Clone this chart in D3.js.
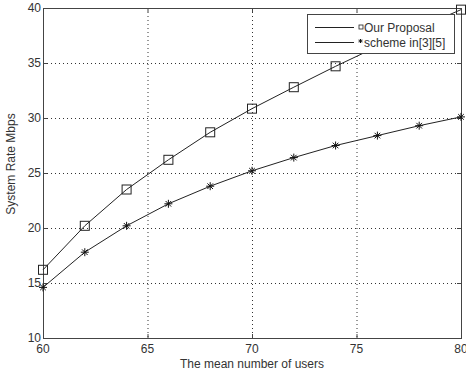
<!DOCTYPE html>
<html>
<head>
<meta charset="utf-8">
<script src="https://cdn.jsdelivr.net/npm/d3@7.9.0/dist/d3.min.js"></script>
<style>
  body { margin: 0; background: #fff; }
  text { font-family: "Liberation Sans", Arial, sans-serif; fill: #333; }
</style>
</head>
<body>
<svg width="466" height="375"></svg>
<script>
const users = [60, 62, 64, 66, 68, 70, 72, 74, 76, 78, 80];
const proposal = [16.2, 20.2, 23.5, 26.2, 28.7, 30.85, 32.8, 34.7, 36.5, 38.2, 39.85];
const scheme = [14.6, 17.8, 20.2, 22.2, 23.8, 25.2, 26.4, 27.5, 28.4, 29.3, 30.1];
const xTicks = [60, 65, 70, 75, 80];
const yTicks = [10, 15, 20, 25, 30, 35, 40];
const legendLabels = ['Our Proposal', 'scheme in[3][5]'];

const svg = d3.select('svg');
const pLeft = 43, pRight = 461, pTop = 8, pBottom = 338;

let x = d3.scaleLinear().domain([60, 80]).range([pLeft, pRight]);
let y = d3.scaleLinear().domain([10, 40]).range([pBottom, pTop]);

// grid
svg.append('g').selectAll('line').data(xTicks.slice(1, -1)).join('line')
  .attr('x1', d => x(d) + 0.5).attr('x2', d => x(d) + 0.5)
  .attr('y1', pTop).attr('y2', pBottom)
  .attr('stroke', '#333').attr('stroke-width', 1).attr('stroke-dasharray', '1,3');
svg.append('g').selectAll('line').data(yTicks.slice(1, -1)).join('line')
  .attr('y1', d => y(d) + 0.5).attr('y2', d => y(d) + 0.5)
  .attr('x1', pLeft).attr('x2', pRight)
  .attr('stroke', '#333').attr('stroke-width', 1).attr('stroke-dasharray', '1,3');

// axes box
svg.append('rect')
  .attr('x', pLeft + 0.5).attr('y', pTop + 0.5)
  .attr('width', pRight - pLeft).attr('height', pBottom - pTop)
  .attr('fill', 'none').attr('stroke', '#444').attr('stroke-width', 1);

// inner ticks
const tickG = svg.append('g').attr('stroke', '#444');
xTicks.forEach(t => {
  tickG.append('line').attr('x1', x(t) + 0.5).attr('x2', x(t) + 0.5).attr('y1', pBottom).attr('y2', pBottom - 4);
  tickG.append('line').attr('x1', x(t) + 0.5).attr('x2', x(t) + 0.5).attr('y1', pTop).attr('y2', pTop + 4);
});
yTicks.forEach(t => {
  tickG.append('line').attr('y1', y(t) + 0.5).attr('y2', y(t) + 0.5).attr('x1', pLeft).attr('x2', pLeft + 4);
  tickG.append('line').attr('y1', y(t) + 0.5).attr('y2', y(t) + 0.5).attr('x1', pRight).attr('x2', pRight - 4);
});

// tick labels
svg.append('g').selectAll('text').data(xTicks).join('text')
  .attr('x', d => x(d)).attr('y', pBottom + 15)
  .attr('text-anchor', 'middle').attr('font-size', 12)
  .text(d => d);
svg.append('g').selectAll('text').data(yTicks).join('text')
  .attr('x', pLeft - 2).attr('y', d => y(d) + 4)
  .attr('text-anchor', 'end').attr('font-size', 12)
  .text(d => d);

// axis labels
svg.append('text')
  .attr('x', (pLeft + pRight) / 2).attr('y', 368)
  .attr('text-anchor', 'middle').attr('font-size', 12)
  .text('The mean number of users');
svg.append('text')
  .attr('transform', 'translate(15,164) rotate(-90)')
  .attr('text-anchor', 'middle').attr('font-size', 12)
  .text('System Rate Mbps');

// lines
let line = d3.line().x((d, i) => x(users[i])).y(d => y(d));
[proposal, scheme].forEach(s => {
  svg.append('path').attr('d', line(s))
    .attr('fill', 'none').attr('stroke', '#222').attr('stroke-width', 1);
});

// markers
svg.append('g').selectAll('rect').data(proposal).join('rect')
  .attr('x', (d, i) => x(users[i]) - 4.5).attr('y', d => y(d) - 4.5)
  .attr('width', 9).attr('height', 9)
  .attr('fill', 'none').attr('stroke', '#222').attr('stroke-width', 1);

function star(g, cx, cy, r) {
  g.append('path')
    .attr('d', `M${cx - r},${cy}H${cx + r}M${cx},${cy - r}V${cy + r}` +
      `M${cx - r * 0.7},${cy - r * 0.7}L${cx + r * 0.7},${cy + r * 0.7}` +
      `M${cx - r * 0.7},${cy + r * 0.7}L${cx + r * 0.7},${cy - r * 0.7}`)
    .attr('stroke', '#111').attr('stroke-width', 1).attr('fill', 'none');
}
const starG = svg.append('g');
scheme.forEach((d, i) => star(starG, x(users[i]), y(d), 4));

// legend
const lg = svg.append('g');
lg.append('rect').attr('x', 307.5).attr('y', 14.5).attr('width', 147).attr('height', 39)
  .attr('fill', '#fff').attr('stroke', '#444').attr('stroke-width', 1);
legendLabels.forEach((lab, i) => {
  const ly = 27 + i * 15;
  lg.append('line').attr('x1', 315).attr('x2', 354).attr('y1', ly + 0.5).attr('y2', ly + 0.5)
    .attr('stroke', '#222');
  if (i === 0) {
    lg.append('rect').attr('x', 359).attr('y', ly - 2).attr('width', 4).attr('height', 4)
      .attr('fill', 'none').attr('stroke', '#222').attr('stroke-width', 0.8);
  } else {
    star(lg, 360.5, ly - 1, 2);
  }
  lg.append('text').attr('x', 364).attr('y', ly + 4.5).attr('font-size', 12).text(lab);
});
</script>
</body>
</html>
